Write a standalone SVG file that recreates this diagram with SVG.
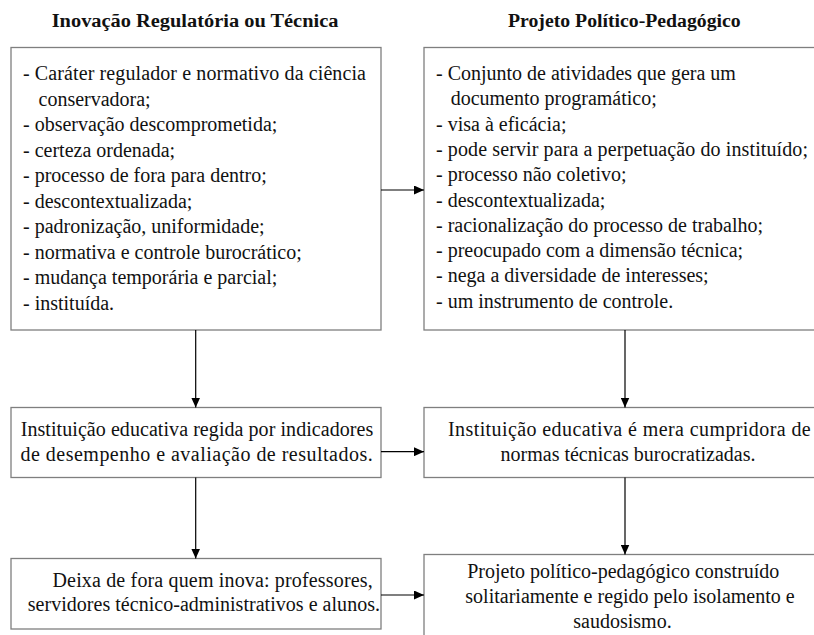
<svg xmlns="http://www.w3.org/2000/svg" width="814" height="635" viewBox="0 0 814 635">
<defs>
<marker id="ah" markerUnits="userSpaceOnUse" markerWidth="11" markerHeight="9" refX="10" refY="4.5" orient="auto">
<path d="M0,0 L10,4.5 L0,9 Z" fill="#000"/>
</marker>
<style>
.box{fill:#fff;stroke:#7f7f7f;stroke-width:1.3}
.c{stroke:#000;stroke-width:1.2;fill:none;marker-end:url(#ah)}
</style>
</defs>
<rect width="814" height="635" fill="#fff"/>
<g id="titles" font-family="Liberation Serif" font-size="18.5" font-weight="bold" fill="#111">
<text x="51.7" y="27" textLength="286.7" lengthAdjust="spacingAndGlyphs">Inovação Regulatória ou Técnica</text>
<text x="508" y="27" textLength="232.7" lengthAdjust="spacingAndGlyphs">Projeto Político-Pedagógico</text>
</g>

<g id="n1" font-family="Liberation Serif" font-size="20" fill="#111">
<rect class="box" x="11" y="47.5" width="370" height="282.5"/>
<text x="23" y="80" textLength="343" lengthAdjust="spacing">- Caráter regulador e normativo da ciência</text>
<text x="38.5" y="105.5">conservadora;</text>
<text x="23" y="131">- observação descomprometida;</text>
<text x="23" y="156.5">- certeza ordenada;</text>
<text x="23" y="182">- processo de fora para dentro;</text>
<text x="23" y="207.5">- descontextualizada;</text>
<text x="23" y="233">- padronização, uniformidade;</text>
<text x="23" y="258.5">- normativa e controle burocrático;</text>
<text x="23" y="284">- mudança temporária e parcial;</text>
<text x="23" y="309.5">- instituída.</text>
</g>

<g id="n2" font-family="Liberation Serif" font-size="20" fill="#111">
<rect class="box" x="424" y="47.5" width="400" height="282.5"/>
<text x="436" y="80">- Conjunto de atividades que gera um</text>
<text x="450.7" y="105.3">documento programático;</text>
<text x="436" y="130.6">- visa à eficácia;</text>
<text x="436" y="155.9" textLength="372" lengthAdjust="spacing">- pode servir para a perpetuação do instituído;</text>
<text x="436" y="181.2">- processo não coletivo;</text>
<text x="436" y="206.5">- descontextualizada;</text>
<text x="436" y="231.8">- racionalização do processo de trabalho;</text>
<text x="436" y="257.1">- preocupado com a dimensão técnica;</text>
<text x="436" y="282.4">- nega a diversidade de interesses;</text>
<text x="436" y="307.7">- um instrumento de controle.</text>
</g>

<g id="n3" font-family="Liberation Serif" font-size="20" fill="#111">
<rect class="box" x="11" y="407.5" width="370" height="70"/>
<text x="20.7" y="435.5" textLength="352.6" lengthAdjust="spacing">Instituição educativa regida por indicadores</text>
<text x="20.5" y="460.5" textLength="352.2" lengthAdjust="spacing">de desempenho e avaliação de resultados.</text>
</g>

<g id="n4" font-family="Liberation Serif" font-size="20" fill="#111">
<rect class="box" x="424" y="407.5" width="400" height="70"/>
<text x="448" y="435.5" textLength="362.7" lengthAdjust="spacing">Instituição educativa é mera cumpridora de</text>
<text x="628" y="460.5" text-anchor="middle">normas técnicas burocratizadas.</text>
</g>

<g id="n5" font-family="Liberation Serif" font-size="20" fill="#111">
<rect class="box" x="11" y="558.5" width="370" height="70.5"/>
<text x="52.5" y="586.5" textLength="320.2" lengthAdjust="spacing">Deixa de fora quem inova: professores,</text>
<text x="27.7" y="611" textLength="352.3" lengthAdjust="spacing">servidores técnico-administrativos e alunos.</text>
</g>

<g id="n6" font-family="Liberation Serif" font-size="20" fill="#111">
<rect class="box" x="424" y="554.5" width="400" height="100"/>
<text x="623.3" y="578" text-anchor="middle">Projeto político-pedagógico construído</text>
<text x="630" y="603" text-anchor="middle">solitariamente e regido pelo isolamento e</text>
<text x="622.5" y="628" text-anchor="middle">saudosismo.</text>
</g>

<g id="connectors">
<line class="c" x1="381" y1="190" x2="424" y2="190"/>
<line class="c" x1="381" y1="451.7" x2="424" y2="451.7"/>
<line class="c" x1="381" y1="595" x2="424" y2="595"/>
<line class="c" x1="195.7" y1="330" x2="195.7" y2="407.5"/>
<line class="c" x1="195.7" y1="477.5" x2="195.7" y2="558.5"/>
<line class="c" x1="625" y1="330" x2="625" y2="407.5"/>
<line class="c" x1="625" y1="477.5" x2="625" y2="554.5"/>
</g>
</svg>
